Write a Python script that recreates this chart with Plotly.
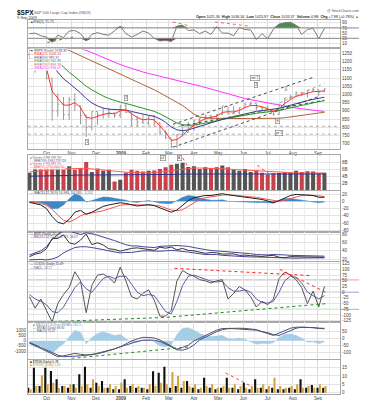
import numpy as np
import pandas as pd
import plotly.graph_objects as go
from plotly.subplots import make_subplots

FONT = "Liberation Sans, Arial, sans-serif"

# ---------------- data (weekly samples) ----------------
dates = pd.date_range("2008-09-10", "2009-09-09", freq="7D")

price_open = [1242, 1251, 1255, 1213, 1099, 899, 941, 877, 969, 931, 873, 800, 896, 876, 880, 888, 873, 932,
              890, 850, 832, 826, 869, 827, 770, 735, 683, 757, 769, 816, 843, 857, 870, 866, 878, 929, 883,
              887, 919, 940, 946, 921, 919, 896, 879, 940, 979, 988, 1010, 1004, 1026, 1029, 1016]
price_high = [1274, 1265, 1256, 1220, 1098, 1006, 985, 985, 1007, 932, 875, 896, 896, 918, 918, 888, 935, 943,
              887, 870, 877, 870, 875, 830, 780, 730, 758, 804, 833, 845, 857, 876, 876, 880, 930, 924, 930,
              920, 951, 956, 946, 922, 931, 898, 941, 979, 996, 1018, 1013, 1027, 1039, 1028, 1036]
price_low = [1212, 1133, 1180, 1090, 840, 866, 845, 845, 899, 818, 741, 780, 815, 852, 857, 857, 857, 888,
             805, 804, 822, 812, 809, 754, 731, 667, 672, 747, 768, 779, 814, 839, 826, 845, 875, 878, 879,
             879, 919, 928, 903, 888, 896, 869, 875, 940, 970, 987, 990, 980, 1019, 991, 1016]
price_close = [1251.7, 1255.1, 1213.3, 1099.2, 899.2, 940.6, 876.8, 968.8, 931.0, 873.3, 800.0, 896.2, 876.1,
               879.7, 887.9, 872.8, 931.8, 890.4, 850.1, 832.0, 825.9, 868.6, 826.8, 770.0, 735.1, 683.4,
               756.6, 768.5, 815.9, 842.5, 856.6, 869.6, 866.2, 877.5, 929.2, 882.9, 887.0, 919.1, 940.1,
               946.2, 921.2, 918.9, 896.4, 879.1, 940.4, 979.3, 987.5, 1010.5, 1004.1, 1026.1, 1028.9,
               1016.4, 1033.4]
ema_red = [1255, 1250, 1235, 1160, 1020, 975, 935, 935, 950, 920, 860, 855, 868, 878, 885, 882, 900, 905,
           882, 860, 845, 850, 845, 810, 770, 720, 725, 750, 785, 812, 835, 852, 860, 868, 890, 895, 893,
           903, 920, 933, 932, 925, 912, 898, 912, 945, 968, 988, 998, 1008, 1017, 1018, 1022]
ema_blue = [1270, 1262, 1250, 1215, 1175, 1135, 1095, 1068, 1040, 1010, 975, 948, 930, 917, 910, 907, 908,
            905, 896, 887, 879, 873, 866, 852, 830, 802, 784, 779, 784, 795, 808, 819, 829, 838, 848, 857,
            865, 873, 883, 891, 897, 902, 906, 909, 915, 925, 935, 945, 954, 962, 970, 976, 983]
ema_green = [1290, 1285, 1278, 1262, 1235, 1200, 1165, 1135, 1108, 1080, 1050, 1028, 1008, 990, 975, 962,
             953, 945, 935, 925, 915, 906, 897, 882, 864, 842, 826, 816, 812, 813, 818, 825, 832, 840, 848,
             855, 861, 867, 874, 880, 885, 889, 893, 896, 902, 910, 918, 927, 935, 943, 950, 956, 962]
ma_brown = [1370, 1355, 1340, 1330, 1315, 1298, 1283, 1268, 1252, 1236, 1220, 1205, 1189, 1173, 1158, 1142,
            1127, 1111, 1096, 1080, 1065, 1047, 1028, 1010, 991, 973, 955, 932, 906, 880, 862, 857, 855, 854,
            853, 853, 853, 853, 853, 853, 853, 853, 853, 853, 855, 858, 862, 867, 872, 877, 882, 887, 890]
ma_magenta = [1400, 1385, 1370, 1360, 1345, 1330, 1315, 1305, 1293, 1281, 1270, 1255, 1240, 1225, 1210, 1195,
              1182, 1170, 1158, 1147, 1137, 1128, 1119, 1110, 1101, 1092, 1083, 1075, 1068, 1060, 1052, 1042,
              1032, 1022, 1012, 1002, 992, 983, 975, 968, 961, 954, 947, 941, 935, 929, 923, 917, 912, 907,
              903, 899, 896]

rsi = [48, 50, 40, 35, 15, 42, 33, 58, 60, 48, 20, 45, 52, 45, 42, 58, 76, 48, 35, 45, 58, 50, 30, 20, 22,
       18, 77, 80, 60, 62, 48, 58, 45, 75, 50, 50, 40, 72, 64, 62, 26, 48, 28, 65, 85, 90, 92, 80, 45, 64,
       68, 28, 68]

volume = [5.0, 7.5, 6.0, 6.5, 8.5, 7.0, 6.5, 6.8, 5.8, 6.3, 8.0, 5.2, 6.2, 5.5, 5.8, 2.5, 3.0, 5.0, 5.8, 5.5,
          5.3, 5.5, 5.6, 6.0, 6.5, 7.2, 7.5, 7.8, 6.6, 6.8, 6.0, 6.5, 6.3, 6.5, 7.0, 6.5, 5.8, 5.5, 6.0, 5.2,
          5.6, 5.0, 4.5, 4.8, 4.9, 5.2, 5.0, 5.5, 5.2, 5.4, 5.3, 4.8, 5.0]
vol_ma_red = [5.2, 5.3, 5.4, 5.6, 5.8, 6.0, 6.1, 6.2, 6.2, 6.2, 6.2, 6.1, 6.0, 5.8, 5.6, 5.4, 5.2, 5.1, 5.0,
              5.0, 4.9, 4.9, 5.0, 5.1, 5.3, 5.5, 5.8, 6.0, 6.2, 6.3, 6.3, 6.3, 6.2, 6.2, 6.1, 6.0, 5.9, 5.8,
              5.7, 5.6, 5.5, 5.4, 5.2, 5.1, 5.0, 4.9, 4.9, 4.9, 4.9, 4.9, 4.9, 4.9, 4.9]
vol_ma_blue = [4.0, 4.0, 4.0, 4.1, 4.1, 4.2, 4.2, 4.2, 4.3, 4.3, 4.3, 4.3, 4.3, 4.3, 4.3, 4.3, 4.3, 4.3, 4.3,
               4.3, 4.3, 4.3, 4.3, 4.4, 4.4, 4.5, 4.5, 4.6, 4.6, 4.6, 4.7, 4.7, 4.7, 4.7, 4.7, 4.7, 4.7, 4.7,
               4.7, 4.7, 4.7, 4.7, 4.6, 4.6, 4.6, 4.6, 4.6, 4.6, 4.6, 4.6, 4.6, 4.6, 4.6]

macd_line = [-3, -6, -10, -20, -42, -58, -62, -50, -30, -25, -36, -30, -22, -14, -10, -7, -4, -6, -10, -13,
             -11, -9, -12, -18, -24, -30, -24, -12, 2, 10, 14, 16, 16, 18, 21, 18, 16, 15, 13, 11, 8, 5, 1,
             -4, 2, 10, 16, 19, 18, 17, 16, 11, 11]
macd_signal = [-2, -4, -6, -11, -22, -38, -52, -57, -50, -40, -34, -32, -30, -26, -21, -16, -11, -9, -9, -10,
               -11, -11, -11, -13, -18, -24, -26, -23, -14, -4, 5, 10, 13, 15, 17, 18, 17, 16, 15, 13, 11, 8,
               5, 1, 0, 3, 8, 13, 16, 17, 17, 15, 13]

vix = [25.7, 32.0, 35.0, 45.1, 69.9, 70.3, 79.1, 59.9, 56.1, 66.3, 80.9, 55.3, 59.9, 54.3, 44.9, 43.4, 39.2,
       42.8, 46.1, 47.3, 44.8, 43.4, 41.3, 49.0, 46.4, 49.3, 42.4, 45.9, 41.0, 40.0, 36.5, 33.9, 35.8, 35.3,
       32.1, 33.1, 32.6, 28.9, 29.6, 28.2, 27.0, 26.4, 27.9, 29.0, 24.3, 23.1, 25.9, 26.2, 25.0, 25.0, 24.8,
       25.3, 24.1]
vix_bb_upper = [30, 35, 40, 50, 68, 80, 88, 88, 84, 80, 84, 82, 78, 74, 70, 65, 60, 55, 52, 52, 50, 49, 48,
                51, 52, 53, 53, 52, 51, 48, 45, 43, 41, 40, 39, 37, 36, 35, 34, 33, 31, 30, 30, 31, 31, 30,
                29, 28.5, 28, 27.5, 27, 27, 27]
vix_bb_lower = [18, 19, 19, 18, 20, 25, 35, 42, 48, 50, 50, 48, 46, 43, 40, 37, 35, 36, 36, 38, 40, 40, 39,
                39, 40, 41, 40, 39, 37, 35, 33, 31, 31, 31, 29, 28, 27, 26, 25.5, 25, 25, 24.5, 24, 24, 23,
                22, 22, 22, 22.5, 23, 23.5, 23.5, 23]

cci = [-20, -70, -30, -80, -130, -50, -10, 20, 90, 50, -90, 30, 75, 80, 65, 40, 110, 50, -20, -30, -5, 10,
       -35, -105, -105, -80, 50, 95, 80, 70, 55, 50, 40, 50, 55, -30, -5, 25, 10, -20, -65, -40, -55, -30,
       60, 88, 75, 55, 20, -50, 5, -65, 25]
cci_ma = [-10, -30, -40, -55, -85, -90, -65, -25, 20, 45, 15, 0, 30, 60, 70, 60, 70, 70, 35, 0, -15, -10,
          -15, -50, -85, -95, -40, 30, 70, 75, 65, 55, 48, 45, 48, 20, 5, 5, 10, 0, -30, -45, -48, -40, 0,
          50, 70, 65, 40, 0, -15, -30, -15]

ad_hist = [-300, -600, -500, -900, -1200, -700, -300, 400, 1000, 800, -300, 300, 700, 850, 700, 500, 600,
           200, -200, -150, 50, 150, -100, -500, -600, -400, 600, 1200, 1250, 1000, 700, 500, 400, 450, 500,
           200, 150, 250, 150, -100, -350, -250, -300, -200, 300, 600, 650, 500, 250, -150, -100, -300, -100]
ad_line = [-31, -52, -74, -95, -116, -131, -124, -113, -107, -113, -119, -116, -106, -97, -88, -74, -59, -38,
           -16, -2, 10, 9, 5, -9, -31, -59, -76, -63, -47, -16, 5, 26, 44, 62, 74, 76, 76, 76, 75, 73, 66,
           51, 37, 24, 41, 59, 76, 84, 84, 84, 81, 76, 71]
ad_signal = [-27, -45, -63, -81, -102, -119, -131, -131, -127, -124, -120, -116, -109, -99, -88, -74, -59,
             -45, -31, -20, -11, -9, -11, -20, -38, -59, -81, -83, -71, -45, -9, 12, 34, 51, 66, 73, 73, 71,
             71, 69, 62, 51, 44, 30, 24, 41, 60, 76, 84, 84, 80, 76, 76]

bottom_black = [3, 15, 4, 15, 13, 8, 4, 3, 5, 11, 15.5, 3, 6, 7, 3, 2, 2, 8, 4, 3, 3, 2, 12.8, 12, 15.5, 3,
                4, 3, 7, 3, 2, 9, 3, 2, 3, 9, 3, 2, 6, 2, 8, 3, 2, 3, 2, 2, 3, 2, 8, 3, 4.6, 3, 3]
bottom_gold = [2, 4, 10.5, 5, 6, 3, 4, 5, 3, 4, 5, 8, 4, 3, 5, 4, 6, 3, 5, 4, 3, 5, 4, 6, 5, 12.4, 10, 7, 4,
               5, 3, 4, 5, 3, 4, 3, 5, 4, 3, 4, 3, 5, 4, 9, 4, 3, 4, 5, 3, 4, 3, 5, 4]

month_ticks = ["2008-10-01", "2008-11-01", "2008-12-01", "2009-01-01", "2009-02-01", "2009-03-01",
               "2009-04-01", "2009-05-01", "2009-06-01", "2009-07-01", "2009-08-01", "2009-09-01"]
month_labels = ["Oct", "Nov", "Dec", "<b>2009</b>", "Feb", "Mar", "Apr", "May", "Jun", "Jul", "Aug", "Sep"]
mid_month_ticks = ["2008-09-15", "2008-10-15", "2008-11-15", "2008-12-15", "2009-01-15", "2009-02-15",
                   "2009-03-15", "2009-04-15", "2009-05-15", "2009-06-15", "2009-07-15", "2009-08-15",
                   "2009-09-15"]

price_ticks = [1250, 1200, 1150, 1100, 1050, 1000, 950, 900, 850, 800, 750, 700]
rsi_ticks = [90, 70, 50, 30, 10]
vol_ticks = [2, 4, 6, 8]
vol_tick_text = ["2B", "4B", "6B", "8B"]
macd_ticks = [20, 0, -20, -40, -60, -80]
vix_ticks = [20, 40, 60, 80]
cci_ticks = [125, 100, 75, 50, 25, 0, -25, -50, -75, -100, -125]
ad_hist_ticks = [1000, 500, 0, -500, -1000]
ad_line_ticks = [50, 0, -50, -100]
bottom_ticks = [0, 5, 10, 15]

# user-drawn trend lines (date, value)
rsi_trend_red = [(["2009-03-06", "2009-03-28"], [93, 77]), (["2009-04-27", "2009-06-08"], [93, 77])]
rsi_trend_green = (["2008-10-02", "2008-11-03"], [14, 35])
price_channel_upper = (["2009-03-06", "2009-08-27"], [818, 1106])
price_channel_lower = (["2009-03-06", "2009-09-02"], [678, 987])
price_trend_gray = (["2009-07-09", "2009-09-09"], [935, 1068])
price_trend_green = (["2009-03-16", "2009-09-09"], [808, 965])
price_levels = [806, 758]
vol_trend_red = [(["2009-03-18", "2009-03-27"], [9.2, 5.7]), (["2009-06-18", "2009-07-05"], [7.1, 4.3])]
cci_trend_red = [(["2009-03-08", "2009-08-22"], [105, 73]), (["2009-07-16", "2009-09-12"], [100, -3])]
cci_trend_green = (["2008-10-09", "2009-02-23", "2009-09-12"], [-129, -111, -50])
ad_trend_green = (["2008-11-01", "2009-03-27"], [-143, -59])
bottom_trend_red = (["2009-05-10", "2009-06-10"], [11.8, 4])
price_boxes = [("2008-11-20", 712, "1"), ("2009-01-07", 981, "2"), ("2009-06-15", 1098, "wk 1"),
               ("2009-06-16", 1060, "2"), ("2009-07-13", 838, "S"), ("2009-07-15", 768, "pt 1")]

# ---------------- figure ----------------
fig = make_subplots(rows=8, cols=1, shared_xaxes=True, vertical_spacing=0,
                    specs=[[{}], [{}], [{}], [{}], [{}], [{}], [{"secondary_y": True}], [{}]])

W, H, ML, MR, MT, MB = 367, 400, 14, 15, 12, 7
PW, PH = W - ML - MR, H - MT - MB


def xp(px):
    return (px - ML) / PW


def yp(py):
    return (H - MB - py) / PH


def line(x, y, color, width=1, dash=None, row=1, sec=None):
    tr = go.Scatter(x=x, y=y, mode="lines", line=dict(color=color, width=width, dash=dash),
                    hoverinfo="skip", showlegend=False)
    if sec is None:
        fig.add_trace(tr, row=row, col=1)
    else:
        fig.add_trace(tr, row=row, col=1, secondary_y=sec)


n = len(dates)
rsi_a = np.array(rsi, dtype=float)
# RSI panel
line(dates, [70] * n, "rgba(0,0,0,0)", 0, row=1)
fig.add_trace(go.Scatter(x=dates, y=np.maximum(rsi_a, 70), fill="tonexty", fillcolor="#4f8a4f",
                         mode="lines", line=dict(width=0), hoverinfo="skip", showlegend=False), row=1, col=1)
line(dates, [30] * n, "rgba(0,0,0,0)", 0, row=1)
fig.add_trace(go.Scatter(x=dates, y=np.minimum(rsi_a, 30), fill="tonexty", fillcolor="#8c3b3b",
                         mode="lines", line=dict(width=0), hoverinfo="skip", showlegend=False), row=1, col=1)
line(dates, rsi, "#7a7a7a", 1, row=1)
for xs, ys in rsi_trend_red:
    line(xs, ys, "#ff5050", 0.9, "dot", row=1)
line(*rsi_trend_green, "#2e8b2e", 0.9, "dot", row=1)

# Price panel
for lv in price_levels:
    line(["2008-09-08", "2009-09-28"], [lv, lv], "#9a9a9a", 0.8, "dot", row=2)
line(dates, ma_magenta, "#ff33ff", 1, row=2)
line(dates, ma_brown, "#b0603a", 1, row=2)
line(dates, ema_green, "#2f8f2f", 1, row=2)
line(dates, ema_blue, "#3a3a9a", 1, row=2)
fig.add_trace(go.Ohlc(x=dates, open=price_open, high=price_high, low=price_low, close=price_close,
                      increasing_line_color="#9a9a9a", decreasing_line_color="#9a9a9a",
                      line=dict(width=1), tickwidth=0.25, hoverinfo="skip", showlegend=False), row=2, col=1)
line(dates, ema_red, "#ff3030", 1, row=2)
line(*price_channel_upper, "#222222", 0.8, "dot", row=2)
line(*price_channel_lower, "#222222", 0.8, "dot", row=2)
line(*price_trend_gray, "#9a9a9a", 0.8, "dot", row=2)
line(*price_trend_green, "#1f7a1f", 1, "dot", row=2)

# Volume panel
vol_colors = ["#c9404a" if (price_close[i] < (price_close[i - 1] if i else price_open[0])) else "#555555"
              for i in range(n)]
fig.add_trace(go.Bar(x=dates, y=volume, marker=dict(color=vol_colors, line=dict(width=0)),
                     width=5 * 86400000, hoverinfo="skip", showlegend=False), row=3, col=1)
line(dates, vol_ma_red, "#ff5a5a", 1, row=3)
line(dates, vol_ma_blue, "#33338a", 1, row=3)
for xs, ys in vol_trend_red:
    line(xs, ys, "#ff3030", 0.9, "dot", row=3)

# MACD panel
macd_hist = np.array(macd_line) - np.array(macd_signal)
fig.add_trace(go.Scatter(x=dates, y=macd_hist, fill="tozeroy", fillcolor="#3d87c4", mode="lines",
                         line=dict(width=0.5, color="#3d87c4"), hoverinfo="skip", showlegend=False),
              row=4, col=1)
line(dates, macd_signal, "#ff5050", 1, row=4)
line(dates, macd_line, "#222222", 1, row=4)

# VIX panel
line(dates, vix_bb_upper, "#44449a", 1, row=5)
line(dates, vix_bb_lower, "#44449a", 1, row=5)
line(dates, vix, "#333333", 1, row=5)

# CCI panel
line(dates, cci_ma, "#5b5baa", 1, row=6)
line(dates, cci, "#555555", 1, row=6)
for xs, ys in cci_trend_red:
    line(xs, ys, "#ff2020", 1, "dot", row=6)
line(*cci_trend_green, "#1f8a1f", 1, "dot", row=6)

# A/D MACD panel
fig.add_trace(go.Scatter(x=dates, y=ad_hist, fill="tozeroy", fillcolor="#a6cde6", mode="lines",
                         line=dict(width=0.5, color="#a6cde6"), hoverinfo="skip", showlegend=False),
              row=7, col=1, secondary_y=False)
line(dates, ad_signal, "#4a4aa0", 1, row=7, sec=True)
line(dates, ad_line, "#555555", 1, row=7, sec=True)
line(*ad_trend_green, "#1f8a1f", 1, "dot", row=7, sec=True)

# Bottom panel
DAY = 86400000
fig.add_trace(go.Bar(x=dates, y=bottom_black, marker=dict(color="#111111", line=dict(width=0)),
                     width=2.6 * DAY, offset=-2.8 * DAY, hoverinfo="skip", showlegend=False), row=8, col=1)
fig.add_trace(go.Bar(x=dates, y=bottom_gold, marker=dict(color="#d6a542", line=dict(width=0)),
                     width=2.6 * DAY, offset=0.1 * DAY, hoverinfo="skip", showlegend=False), row=8, col=1)
line(*bottom_trend_red, "#ff3030", 0.9, "dot", row=8)

# ---------------- axes ----------------
panels = {1: (39, 12), 2: (143, 42), 3: (185.5, 150), 4: (228, 186), 5: (258, 228), 6: (320, 259),
          7: (357, 320), 8: (393, 358)}
for r, (bot, top) in panels.items():
    fig.update_yaxes(domain=[yp(bot), yp(top)], row=r, col=1)

axis_font = dict(size=4.5, color="#444444", family=FONT)
common_y = dict(showline=True, mirror=True, linecolor="#a8a8a8", linewidth=1, gridcolor="#e4e4e4",
                zeroline=False, tickfont=axis_font, ticks="", side="right", fixedrange=True)
ycfg = {1: ([-1.5, 100.5], rsi_ticks, None), 2: ([670, 1274], price_ticks, None),
        3: ([0, 9.86], vol_ticks, vol_tick_text), 4: ([-84.6, 28.9], macd_ticks, None),
        5: ([14, 86], vix_ticks, None), 6: ([-132.3, 130.6], cci_ticks, None),
        8: ([-0.8, 19.8], bottom_ticks, None)}
for r, (rng, tv, tt) in ycfg.items():
    fig.update_yaxes(range=rng, tickvals=tv, ticktext=tt if tt else [str(v) for v in tv], row=r, col=1,
                     **common_y)
fig.update_yaxes(range=[-1726, 1764], tickvals=ad_hist_ticks, ticktext=[str(v) for v in ad_hist_ticks],
                 row=7, col=1, secondary_y=False, **{**common_y, "side": "left", "showgrid": False})
fig.update_yaxes(range=[-145, 119], tickvals=ad_line_ticks, ticktext=[str(v) for v in ad_line_ticks],
                 row=7, col=1, secondary_y=True, **common_y)

fig.update_xaxes(type="date", range=["2008-09-08 05:00", "2009-09-28 07:00"], tickvals=month_ticks,
                 ticktext=month_labels, showticklabels=False, ticks="", showgrid=True, gridcolor="#dcdcdc",
                 showline=True, mirror=True, linecolor="#a8a8a8", linewidth=1, tickfont=axis_font,
                 rangeslider_visible=False, fixedrange=True,
                 minor=dict(tickvals=mid_month_ticks, showgrid=True, gridcolor="#ececec"))
fig.update_xaxes(showticklabels=True, row=2, col=1)
fig.update_xaxes(showticklabels=True, row=8, col=1)

# reference lines in RSI and CCI panels
for v, c in [(70, "#8a8a8a"), (30, "#8a8a8a")]:
    fig.add_shape(type="line", xref="paper", x0=0, x1=1, yref="y", y0=v, y1=v, line=dict(color=c, width=1))
for v, c in [(54, "#ff9c9c"), (0, "#a0a0e0"), (-75, "#8fc98f")]:
    fig.add_shape(type="line", xref="paper", x0=0, x1=1, yref="y6", y0=v, y1=v, line=dict(color=c, width=1),
                  layer="below")


def ann(text, x, y, size=4.0, color="#333333", xanchor="left", **kw):
    fig.add_annotation(text=text, x=xp(x), y=yp(y), xref="paper", yref="paper", showarrow=False,
                       font=dict(size=size, color=color, family=FONT), xanchor=xanchor, yanchor="middle",
                       borderpad=0, **kw)


# header
ann("<b>$SPX</b>", 2, 4.5, size=6.5, color="#111111")
ann("S&P 500 Large Cap Index (INDX)", 19, 4.5, size=3.8, color="#555555")
ann("9-Sep-2009", 2, 9.5, size=3.8, color="#333333")
ann("@ StockCharts.com", 352, 3.2, size=3.6, color="#555555", xanchor="right")
ann("<b>Open</b> 1025.36  <b>High</b> 1036.34  <b>Low</b> 1023.97  <b>Close</b> 1033.37  "
    "<b>Volume</b> 4.9B  <b>Chg</b> +7.98 (+0.78%) <span style='color:#2a9a2a'>▲</span>",
    352, 8.6, size=3.7, color="#222222", xanchor="right")
ann("▲RSI(5) 71.71", 15, 14, size=3.6, color="#333333")

# price legend
leg = [("▼ $SPX (Daily) 1033.37", "#333333"), ("— EMA(20) 1008.24", "#ff3030"),
       ("— EMA(50) 985.31", "#3a3a9a"), ("— EMA(100) 961.83", "#2f8f2f"),
       ("— EMA(200) 890.30", "#b0603a"), ("— SMA(200) 896.07", "#ff33ff")]
for i, (t, c) in enumerate(leg):
    ann(t, 15, 43.6 + i * 3.5, size=3.4, color=c, bgcolor="rgba(255,255,255,0.9)")

vleg = [("■ Volume 4,994,393,750", "#555555"), ("— SMA(200) 4,601,253,120", "#33338a"),
        ("■ Volume 4,994,393,750", "#c9404a"), ("— SMA(50) 4,912,604,160", "#ff5a5a")]
for i, (t, c) in enumerate(vleg):
    ann(t, 15, 152.2 + i * 3.1, size=2.9, color=c, bgcolor="rgba(255,255,255,0.85)")

ann("— MACD(12,26,9) 10.963, 14.165, <span style='color:#3d87c4'>-3.202</span>", 15, 188.5, size=3.4,
    color="#333333")
ann("— $VIX (Daily) 24.07", 15, 229.8, size=3.2, color="#333333")
ann("— BB(20,2.0) 25.63, 27.19, 24.07", 15, 233.0, size=3.2, color="#44449a")
ann("— CCI(20) (Daily) 25.49", 15, 261.0, size=3.1, color="#333333")
ann("— MA(5) -14.71", 15, 264.6, size=3.1, color="#5b5baa")
ann("■ MACD(12,26,9) on $NYAD -192.3", 18, 322.4, size=3.0, color="#5a8fc0")
ann("— $NYAD (Daily) 69.80", 18, 325.6, size=3.0, color="#555555")
ann("— MA(10) 76.21", 18, 328.8, size=3.0, color="#4a4aa0")
ann("■ $TRIN (Daily) 0.78", 15, 360.2, size=3.1, color="#111111")
ann("■ $TRINQ (Daily) 1.05", 15, 363.6, size=3.1, color="#c8952e")

# annotation boxes in price panel
for dx, v, t in price_boxes:
    fig.add_annotation(text=t, x=dx, y=v, xref="x2", yref="y2", showarrow=False,
                       font=dict(size=3.6, color="#333333", family=FONT), bgcolor="white",
                       bordercolor="#777777", borderwidth=0.6, borderpad=0.6)
fig.add_annotation(text="⇩", x="2009-07-24", y=1030, xref="x2", yref="y2", showarrow=False,
                   font=dict(size=7, color="#666666", family="DejaVu Sans"))
for dx, t in [("2009-02-22", "x2"), ("2009-03-14", "A")]:
    fig.add_annotation(text=t, x=dx, y=yp(152.5), xref="x2", yref="paper", showarrow=False,
                       font=dict(size=3.2, color="#333333", family=FONT), bgcolor="white",
                       bordercolor="#777777", borderwidth=0.6, borderpad=0.4)

fig.update_layout(width=W, height=H, margin=dict(l=ML, r=MR, t=MT, b=MB), showlegend=False,
                  plot_bgcolor="white", paper_bgcolor="white", barmode="overlay",
                  font=dict(family=FONT, size=4.5), hovermode=False)

fig.write_html("out.html")
